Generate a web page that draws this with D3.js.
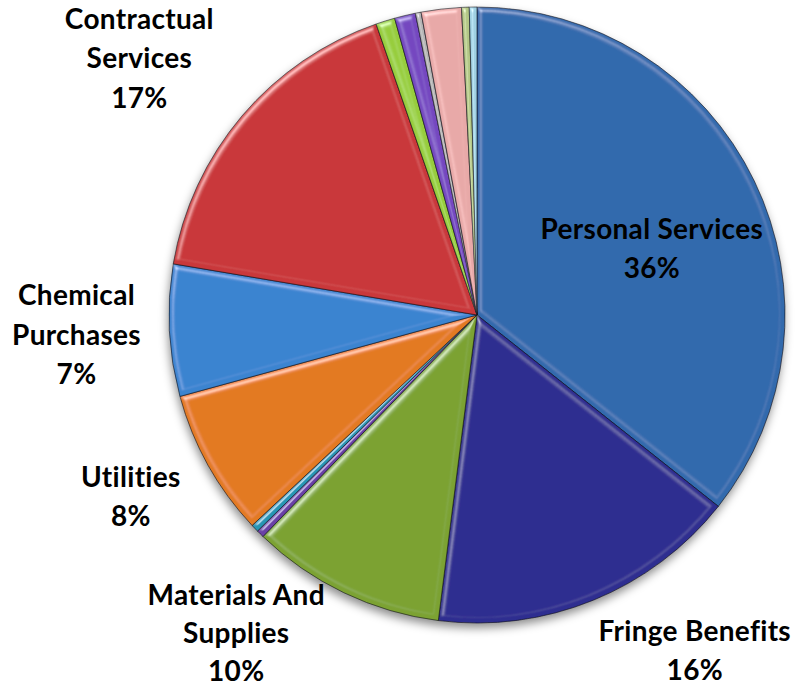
<!DOCTYPE html>
<html>
<head>
<meta charset="utf-8">
<script src="https://cdn.jsdelivr.net/npm/d3@7"></script>
<style>
  html, body { margin: 0; padding: 0; background: #fff; }
  svg { display: block; }
  .lbl { font-family: Lato, "Open Sans", sans-serif; font-weight: 700; fill: #000; }
</style>
</head>
<body>
<svg id="chart" width="798" height="693"></svg>
<script>
// Expense categories, clockwise from 12 o'clock (percent of total)
const categories = [
  "Personal Services", "Fringe Benefits", "Materials And Supplies",
  "Equipment", "Insurance", "Utilities", "Chemical Purchases",
  "Contractual Services", "Travel", "Training", "Postage",
  "Debt Service", "Dues", "Miscellaneous"
];
const values = [35.6, 16.3, 10.2, 0.4, 0.4, 7.7, 6.9, 17.0, 1.0, 1.1, 0.3, 2.1, 0.4, 0.4];
const colors = [
  "#336aad", "#2e2d90", "#7ba232", "#6a3fa6", "#2795b3", "#e37a22", "#3b84d0",
  "#c9373a", "#97cd3c", "#7447c0", "#b4b4b4", "#e8a9a8", "#b3c786", "#9fd0e2"
];
// Categories whose label is shown, with label line breaks
const labelLines = {
  "Personal Services": ["Personal Services"],
  "Fringe Benefits": ["Fringe Benefits"],
  "Materials And Supplies": ["Materials And", "Supplies"],
  "Utilities": ["Utilities"],
  "Chemical Purchases": ["Chemical", "Purchases"],
  "Contractual Services": ["Contractual", "Services"]
};

// Layout
const W = 798, H = 693;
const cx = 477, cy = 315, R = 308;
// label placement: angle nudge (deg) from the slice middle, distance from centre, line spacing
const labelPlace = {
  "Personal Services": { da: 5, r: 187, lh: 39.5 },
  "Fringe Benefits":   { da: -10.8, r: 400, lh: 39 },
  "Materials And Supplies": { da: 11.5, r: 399, lh: 38 },
  "Utilities":         { da: 1.5, r: 391, lh: 39.5 },
  "Chemical Purchases":{ da: 0, r: 401, lh: 39.5 },
  "Contractual Services": { da: -3, r: 424, lh: 39.5 }
};

const data = categories.map((c, i) => ({ name: c, value: values[i], color: colors[i] }));
const total = d3.sum(values);
const pct = d3.format(".0%");

const svg = d3.select("#chart");
const defs = svg.append("defs");

// soft shadow under the pie
const sh = defs.append("filter").attr("id", "shadow")
  .attr("x", "-10%").attr("y", "-10%").attr("width", "120%").attr("height", "120%");
sh.append("feGaussianBlur").attr("stdDeviation", 5);

// rounded-edge bevel: lighting restricted to a band along each slice's edge
const bv = defs.append("filter").attr("id", "bevel")
  .attr("x", "-5%").attr("y", "-5%").attr("width", "110%").attr("height", "110%");
bv.append("feMorphology").attr("in", "SourceAlpha").attr("operator", "erode").attr("radius", 5).attr("result", "inner");
bv.append("feComposite").attr("in", "SourceAlpha").attr("in2", "inner").attr("operator", "out").attr("result", "edge");
bv.append("feGaussianBlur").attr("in", "edge").attr("stdDeviation", 1.2).attr("result", "edgeSoft");
bv.append("feGaussianBlur").attr("in", "SourceAlpha").attr("stdDeviation", 2.5).attr("result", "blur");
const spec = bv.append("feSpecularLighting").attr("in", "blur")
  .attr("surfaceScale", 4).attr("specularConstant", 0.8).attr("specularExponent", 16)
  .attr("lighting-color", "#ffffff").attr("result", "spec");
spec.append("feDistantLight").attr("azimuth", 235).attr("elevation", 40);
bv.append("feComposite").attr("in", "spec").attr("in2", "edgeSoft").attr("operator", "in").attr("result", "specEdge");
bv.append("feComposite").attr("in", "specEdge").attr("in2", "SourceAlpha").attr("operator", "in").attr("result", "specIn");
bv.append("feComposite").attr("in", "SourceGraphic").attr("in2", "specIn")
  .attr("operator", "arithmetic").attr("k1", 0).attr("k2", 1).attr("k3", 0.55).attr("k4", 0);

const g = svg.append("g").attr("transform", `translate(${cx},${cy})`);

g.append("circle")
  .attr("cx", -1).attr("cy", 5).attr("r", R)
  .attr("fill", "rgba(0,0,0,0.45)")
  .attr("filter", "url(#shadow)");

const pie = d3.pie().value(d => d.value).sort(null);
const arcs = pie(data);
const arc = d3.arc().innerRadius(0).outerRadius(R);

g.selectAll("path.slice")
  .data(arcs)
  .join("path")
  .attr("class", "slice")
  .attr("d", arc)
  .attr("fill", d => d.data.color)
  .attr("stroke", "rgba(15,15,25,0.6)")
  .attr("stroke-width", 1)
  .attr("stroke-linejoin", "round")
  .attr("filter", "url(#bevel)");

// labels
const labelled = arcs.filter(d => labelLines[d.data.name]);
const lg = svg.append("g");
labelled.forEach(d => {
  const p = labelPlace[d.data.name];
  const mid = (d.startAngle + d.endAngle) / 2 + p.da * Math.PI / 180;
  const x = cx + p.r * Math.sin(mid);
  const y = cy - p.r * Math.cos(mid);
  const lines = labelLines[d.data.name].concat([pct(d.data.value / total)]);
  const n = lines.length;
  const t = lg.append("text").attr("class", "lbl")
    .attr("text-anchor", "middle")
    .attr("font-size", 28)
    .attr("letter-spacing", 0.3);
  lines.forEach((s, i) => {
    t.append("tspan")
      .attr("x", x)
      .attr("y", y + (i - (n - 1) / 2) * p.lh)
      .attr("dy", "0.35em")
      .text(s);
  });
});
</script>
</body>
</html>
